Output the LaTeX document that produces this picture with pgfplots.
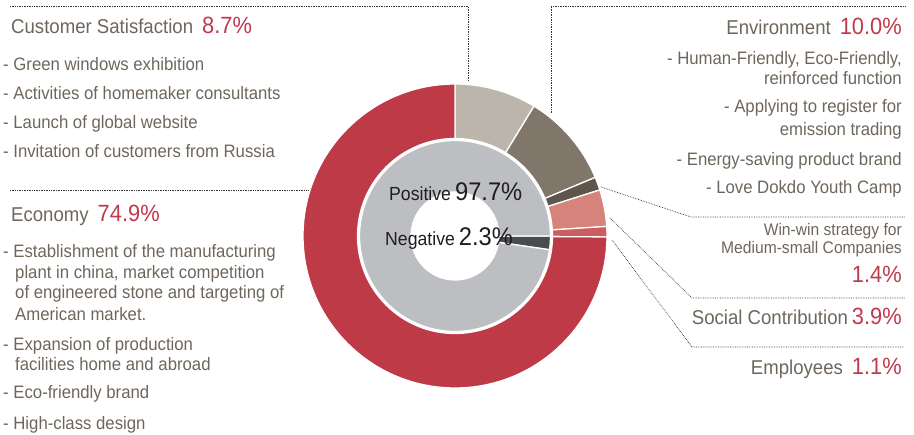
\documentclass[border=0pt]{standalone}
\usepackage{pgfplots}
\pgfplotsset{compat=1.18}
\usepackage{fontspec}
\setmainfont{Liberation Sans}[FakeStretch=0.93]

\definecolor{cCS}{HTML}{BCB5AB}
\definecolor{cEnv}{HTML}{807669}
\definecolor{cWW}{HTML}{5E564C}
\definecolor{cSC}{HTML}{D5837B}
\definecolor{cEmp}{HTML}{CD5C61}
\definecolor{cEco}{HTML}{BE3A47}
\definecolor{cPos}{HTML}{BDBEC1}
\definecolor{cNeg}{HTML}{4B4C4E}
\definecolor{ctext}{HTML}{6E665C}
\definecolor{cred}{HTML}{C0394A}
\definecolor{cdark}{HTML}{1E1E1E}

\newcommand\cx{455}
\newcommand\cy{199}
\def\cum{0}
% #1 base angle, #2 inner radius, #3 outer radius, #4 value (%), #5 colour
\newcommand\seg[5]{%
  \pgfmathsetmacro\aA{#1-3.6*\cum}%
  \pgfmathsetmacro\aB{#1-3.6*(\cum+#4)}%
  \pgfmathsetmacro\aC{\aB+180}%
  \pgfmathsetmacro\dd{#3-#2}%
  \edef\tmp{\noexpand\fill[#5,draw=white,line width=1.3pt,line join=miter]
    (axis cs:\cx,\cy) ++(\aA:#3pt) arc[start angle=\aA,end angle=\aB,radius=#3pt]
    -- ++(\aC:\dd pt) arc[start angle=\aB,end angle=\aA,radius=#2pt] -- cycle;}%
  \tmp
  \pgfmathsetmacro\cum{\cum+#4}%
}
\newcommand\hd{\fontsize{20}{24}\selectfont}
\newcommand\itm{\fontsize{18}{22}\selectfont}
\newcommand\pc[1]{{\color{cred}\fontsize{23.5}{28}\selectfont #1}}

\begin{document}
\begin{tikzpicture}
\begin{axis}[x=1pt,y=1pt,xmin=0,xmax=914,ymin=0,ymax=435,hide axis,clip=false]
\path (axis cs:0,0) rectangle (axis cs:914,435);
% outer ring
\def\cum{0}
\seg{90}{97.5}{152}{8.7}{cCS}
\seg{90}{97.5}{152}{10.0}{cEnv}
\seg{90}{97.5}{152}{1.4}{cWW}
\seg{90}{97.5}{152}{3.9}{cSC}
\seg{90}{97.5}{152}{1.1}{cEmp}
\seg{90}{97.5}{152}{74.9}{cEco}
% inner ring
\def\cum{0}
\seg{0}{44}{95.5}{2.3}{cNeg}
\seg{0}{44}{95.5}{97.7}{cPos}

% leader lines
\tikzset{lead/.style={densely dotted,line width=0.7pt,color=black!80}}
\draw[lead] (axis cs:10,429) -- (axis cs:468,429) -- (axis cs:468,354);
\draw[lead] (axis cs:10,245) -- (axis cs:308,245);
\draw[lead] (axis cs:551,322) -- (axis cs:551,429) -- (axis cs:905,429);
\draw[lead] (axis cs:601,248) -- (axis cs:691,218) -- (axis cs:905,218);
\draw[lead] (axis cs:610,217) -- (axis cs:692,137) -- (axis cs:905,137);
\draw[lead] (axis cs:612,195) -- (axis cs:692,88) -- (axis cs:905,88);

% left texts
\tikzset{L/.style={anchor=base west,inner sep=0pt,text=ctext},R/.style={anchor=base east,inner sep=0pt,text=ctext}}
\node[L] at (axis cs:11,401) {\hd Customer Satisfaction\hspace{9pt}\pc{8.7\%}};
\node[L] at (axis cs:3,364) {\itm - Green windows exhibition};
\node[L] at (axis cs:3,335) {\itm - Activities of homemaker consultants};
\node[L] at (axis cs:3,306) {\itm - Launch of global website};
\node[L] at (axis cs:3,277) {\itm - Invitation of customers from Russia};

\node[L] at (axis cs:11,213) {\hd Economy\hspace{9pt}\pc{74.9\%}};
\node[L] at (axis cs:3,177) {\itm - Establishment of the manufacturing};
\node[L] at (axis cs:15,156) {\itm plant in china, market competition};
\node[L] at (axis cs:15,136) {\itm of engineered stone and targeting of};
\node[L] at (axis cs:15,114) {\itm American market.};
\node[L] at (axis cs:3,84) {\itm - Expansion of production};
\node[L] at (axis cs:15,64) {\itm facilities home and abroad};
\node[L] at (axis cs:3,36) {\itm - Eco-friendly brand};
\node[L] at (axis cs:3,5) {\itm - High-class design};

% right texts
\node[R] at (axis cs:902,400) {\hd Environment\hspace{9pt}\pc{10.0\%}};
\node[R] at (axis cs:902,370) {\itm - Human-Friendly, Eco-Friendly,};
\node[R] at (axis cs:902,350) {\itm reinforced function};
\node[R] at (axis cs:902,322) {\itm - Applying to register for};
\node[R] at (axis cs:902,299) {\itm emission trading};
\node[R] at (axis cs:902,269) {\itm - Energy-saving product brand};
\node[R] at (axis cs:902,241) {\itm - Love Dokdo Youth Camp};

\node[R] at (axis cs:902,199) {\fontsize{16.8}{20}\selectfont Win-win strategy for};
\node[R] at (axis cs:902,181) {\fontsize{16.8}{20}\selectfont Medium-small Companies};
\node[R] at (axis cs:902,152) {\pc{1.4\%}};
\node[R] at (axis cs:902,110) {\hd Social Contribution\hspace{4pt}\pc{3.9\%}};
\node[R] at (axis cs:902,60) {\hd Employees\hspace{9pt}\pc{1.1\%}};

% centre texts
\node[anchor=base west,inner sep=0pt,text=cdark] at (axis cs:389,234) {\fontsize{19}{23}\selectfont Positive\hspace{4pt}{\fontsize{25.5}{30}\selectfont 97.7\%}};
\node[anchor=base west,inner sep=0pt,text=cdark] at (axis cs:385,189) {\fontsize{19}{23}\selectfont Negative\hspace{4pt}{\fontsize{25.5}{30}\selectfont 2.3\%}};
\end{axis}
\end{tikzpicture}
\end{document}
